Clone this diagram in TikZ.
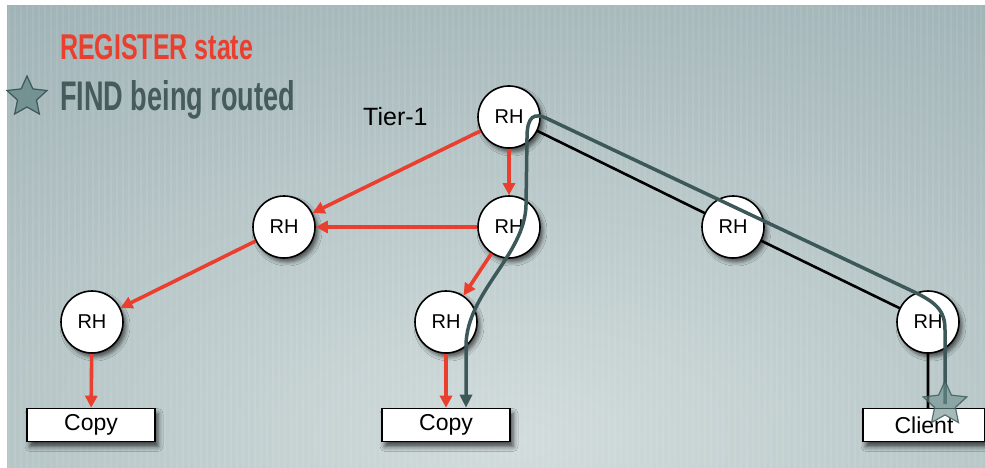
\documentclass[tikz,border=0pt]{standalone}
\usepackage{fontspec}
\usepackage{graphicx}
\setmainfont{Liberation Sans}
\usetikzlibrary{arrows.meta,shapes.geometric,shadows.blur}

\definecolor{bgouter}{RGB}{156,176,179}
\definecolor{bginner}{RGB}{210,220,220}
\definecolor{regred}{RGB}{234,62,46}
\definecolor{findteal}{RGB}{60,88,88}
\definecolor{legendtext}{RGB}{70,92,92}
\definecolor{starfill}{RGB}{108,140,140}

\begin{document}
\begin{tikzpicture}[x=1pt,y=-1pt,
  rh/.style={circle,draw=black,line width=1.6pt,fill=white,minimum size=62pt,
    inner sep=0pt,font=\fontsize{20}{20}\selectfont,
    blur shadow={shadow xshift=3pt,shadow yshift=-4pt,shadow blur radius=4pt,shadow opacity=60}},
  endbox/.style={rectangle,draw=black,line width=1.6pt,fill=white,minimum width=128pt,
    minimum height=33pt,inner sep=0pt,font=\fontsize{23}{23}\selectfont,
    blur shadow={shadow xshift=3pt,shadow yshift=-5pt,shadow blur radius=5pt,shadow opacity=70}},
  regarrow/.style={draw=regred,line width=3.6pt,-{Triangle[length=12pt,width=12pt]}},
  link/.style={draw=black,line width=2.6pt},
  findpath/.style={draw=findteal,line width=3.5pt,line join=round,
    -{Triangle[length=13pt,width=12pt]}},
  findstar/.style={star,star points=5,star point ratio=2.1,inner sep=0pt,
    fill=starfill,draw=findteal,line width=1.2pt}
]
\useasboundingbox (0,0) rectangle (985,468);

% backdrop: white page edge, then shaded panel with faint vertical stripes
\fill[white] (0,0) rectangle (985,468);
\begin{scope}
  \clip (7,6) rectangle (985,468);
  \fill[bgouter] (7,6) rectangle (985,468);
  \shade[inner color=bginner,outer color=bgouter] (520,440) ellipse [x radius=1000,y radius=560];
  \foreach \sx in {9,15,...,985} {
    \draw[white,opacity=0.07,line width=2pt] (\sx,6) -- (\sx,468);
  }
\end{scope}

% legend
\node[anchor=base west,text=regred,inner sep=0pt]
  (legreg) at (60,60) {\resizebox{193pt}{25pt}{\bfseries REGISTER state}};
\node[findstar,minimum size=42pt,fill opacity=0.85] (legstar) at (27,97) {};
\node[anchor=base west,text=legendtext,inner sep=0pt]
  (legfind) at (60,111) {\resizebox{235pt}{30pt}{\bfseries FIND being routed}};

\node[anchor=base west,inner sep=0pt,font=\fontsize{25}{25}\selectfont]
  (tierlabel) at (363,125) {Tier-1};

% coordinates of the hierarchy
\coordinate (pt1) at (509,117);
\coordinate (pm1) at (284,227);
\coordinate (pm2) at (509,227);
\coordinate (pm3) at (733,227);
\coordinate (pb1) at (92,322);
\coordinate (pb2) at (446,322);
\coordinate (pb3) at (928,322);

% plain links (drawn beneath the circles)
\draw[link] (pt1) -- (pm3) -- (pb3) -- (928,410);

% resolver handles
\node[rh] (t1) at (pt1) {RH};
\node[rh] (m1) at (pm1) {RH};
\node[rh] (m2) at (pm2) {RH};
\node[rh] (m3) at (pm3) {RH};
\node[rh] (b1) at (pb1) {RH};
\node[rh] (b2) at (pb2) {RH};
\node[rh] (b3) at (pb3) {RH};

% end hosts
\node[endbox] (copyA) at (91,425) {Copy};
\node[endbox] (copyB) at (446,425) {Copy};
\node[endbox,minimum width=122pt] (client) at (924,425) {Client};

% REGISTER state propagation
\draw[regarrow] (t1) -- (m1);
\draw[regarrow] (t1) -- (m2);
\draw[regarrow] (m2) -- (m1);
\draw[regarrow] (m1) -- (b1);
\draw[regarrow] (m2) -- (b2);
\draw[regarrow] (b1) -- (copyA);
\draw[regarrow] (b2) -- (copyB);

% FIND route from the client up to tier-1 and down to the copy
\path node[star,star points=5,minimum size=46pt,inner sep=0pt] (findsrc) at (945,404) {};
\draw[findpath] (findsrc.center) -- (945,330)
  .. controls (945,310) and (936,302) .. (910,290)
  -- (548,119)
  .. controls (534,112) and (527,116) .. (527,138)
  -- (526,205)
  .. controls (525,255) and (467,292) .. (466,345)
  -- ([xshift=20pt]copyB.north);
\node[findstar,minimum size=46pt,fill opacity=0.6,draw opacity=0.8] at (findsrc) {};
\end{tikzpicture}
\end{document}
